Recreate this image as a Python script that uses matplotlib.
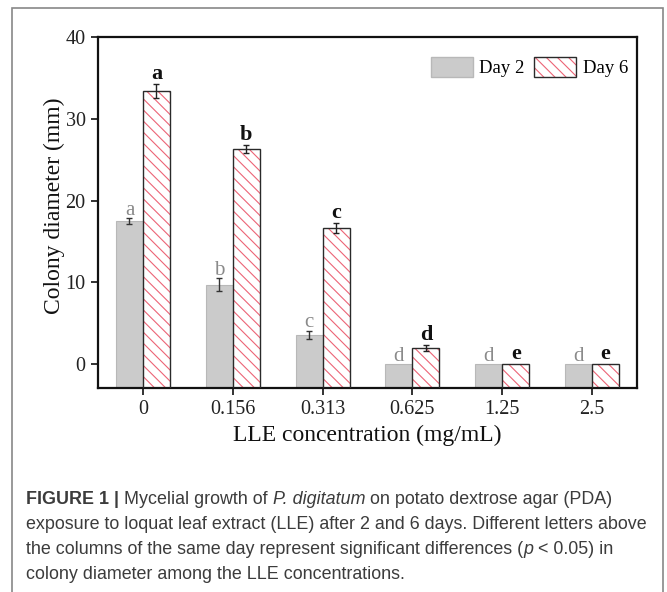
import matplotlib
matplotlib.use("Agg")
import matplotlib.pyplot as plt
from matplotlib.patches import Rectangle, Patch
from matplotlib.legend_handler import HandlerTuple
import numpy as np

# data
concentrations = ["0", "0.156", "0.313", "0.625", "1.25", "2.5"]
day2 = [17.5, 9.7, 3.6, 0.0, 0.0, 0.0]
day2_err = [0.4, 0.8, 0.5, 0.0, 0.0, 0.0]
day6 = [33.4, 26.3, 16.7, 2.0, 0.0, 0.0]
day6_err = [0.9, 0.5, 0.6, 0.4, 0.0, 0.0]
day2_letters = ["a", "b", "c", "d", "d", "d"]
day6_letters = ["a", "b", "c", "d", "e", "e"]

caption_lines = [
    [("FIGURE 1 | ", "bold", "normal"), ("Mycelial growth of ", "normal", "normal"),
     ("P. digitatum", "normal", "italic"), (" on potato dextrose agar (PDA)", "normal", "normal")],
    [("exposure to loquat leaf extract (LLE) after 2 and 6 days. Different letters above", "normal", "normal")],
    [("the columns of the same day represent significant differences (", "normal", "normal"),
     ("p", "normal", "italic"), (" < 0.05) in", "normal", "normal")],
    [("colony diameter among the LLE concentrations.", "normal", "normal")],
]

W, H = 667, 592
fig = plt.figure(figsize=(W / 100, H / 100), dpi=100)
serif = "Liberation Serif"
plt.rcParams["hatch.linewidth"] = 0.8

ax = fig.add_axes([98 / W, 1 - 388 / H, (637 - 98) / W, (388 - 37) / H])
ymin, ymax = -2.9, 40
ax.set_xlim(-0.5, 5.5)
ax.set_ylim(ymin, ymax)

x = np.arange(len(concentrations))
bw = 0.3
gray = "#cbcbcb"
gray_edge = "#b8b8b8"
red = "#ec6476"
edge = "#2a2a2a"
hatch = "\\\\\\"

ax.bar(x - bw / 2, np.array(day2) - ymin, bw, bottom=ymin, color=gray,
       edgecolor=gray_edge, linewidth=0.8, zorder=2)
# day 6: white bar, red hatch, dark outline
ax.bar(x + bw / 2, np.array(day6) - ymin, bw, bottom=ymin, color="white",
       edgecolor=red, linewidth=0, hatch=hatch, zorder=2)
ax.bar(x + bw / 2, np.array(day6) - ymin, bw, bottom=ymin, color="none",
       edgecolor=edge, linewidth=1.0, zorder=3)

for i in range(len(x)):
    if day2_err[i] > 0:
        ax.errorbar(x[i] - bw / 2, day2[i], yerr=day2_err[i], fmt="none",
                    ecolor="#333333", elinewidth=1.0, capsize=2.5, capthick=1.0, zorder=4)
    if day6_err[i] > 0:
        ax.errorbar(x[i] + bw / 2, day6[i], yerr=day6_err[i], fmt="none",
                    ecolor="#222222", elinewidth=1.0, capsize=2.5, capthick=1.0, zorder=4)
    ax.text(x[i] - bw / 2, day2[i] + day2_err[i] + 0.4, day2_letters[i], ha="center",
            va="baseline", fontsize=15, color="#8a8a8a", family=serif)
    ax.text(x[i] + bw / 2, day6[i] + day6_err[i] + 0.6, day6_letters[i], ha="center",
            va="baseline", fontsize=16, color="#111111", family=serif, fontweight="bold")

ax.set_xticks(x)
ax.set_xticklabels(concentrations)
ax.set_yticks([0, 10, 20, 30, 40])
ax.tick_params(direction="out", length=5, width=1.3, labelsize=14.5, colors="#222222",
               labelcolor="#222222", pad=4)
for lab in ax.get_xticklabels() + ax.get_yticklabels():
    lab.set_family(serif)
for s in ax.spines.values():
    s.set_linewidth(1.6)
    s.set_color("#111111")
ax.set_xlabel("LLE concentration (mg/mL)", fontsize=17, family=serif, color="#111111", labelpad=4)
ax.set_ylabel("Colony diameter (mm)", fontsize=17, family=serif, color="#111111")
ax.yaxis.set_label_coords(-0.062, 0.52)

handles = [Patch(facecolor=gray, edgecolor=gray_edge),
           (Patch(facecolor="white", edgecolor=red, hatch=hatch, linewidth=0),
            Patch(facecolor="none", edgecolor=edge, linewidth=1.0))]
leg = ax.legend(handles=handles, labels=["Day 2", "Day 6"], ncol=2, loc="upper right",
                frameon=False, prop={"family": serif, "size": 13.5},
                handler_map={tuple: HandlerTuple(ndivide=1)},
                handlelength=2.25, handleheight=1.2, columnspacing=0.5, handletextpad=0.35,
                bbox_to_anchor=(1.015, 0.99))

# outer frame
fig.add_artist(Rectangle((12 / W, -0.01), (663 - 12) / W, 1 - 8 / H + 0.01,
                         transform=fig.transFigure, facecolor="none",
                         edgecolor="#888888", linewidth=1.2))

# caption, run by run
fig.canvas.draw()
renderer = fig.canvas.get_renderer()
line_y = [499.5, 524.5, 549.5, 574.5]
for row, runs in zip(line_y, caption_lines):
    xpos = 26
    for txt, weight, style in runs:
        t = fig.text(xpos / W, 1 - row / H, txt, fontsize=12.85, family="Liberation Sans",
                     fontweight=weight, style=style, color="#3c3c3c", va="center", ha="left")
        bb = t.get_window_extent(renderer=renderer)
        xpos += bb.width

fig.savefig("out.png", dpi=100)
